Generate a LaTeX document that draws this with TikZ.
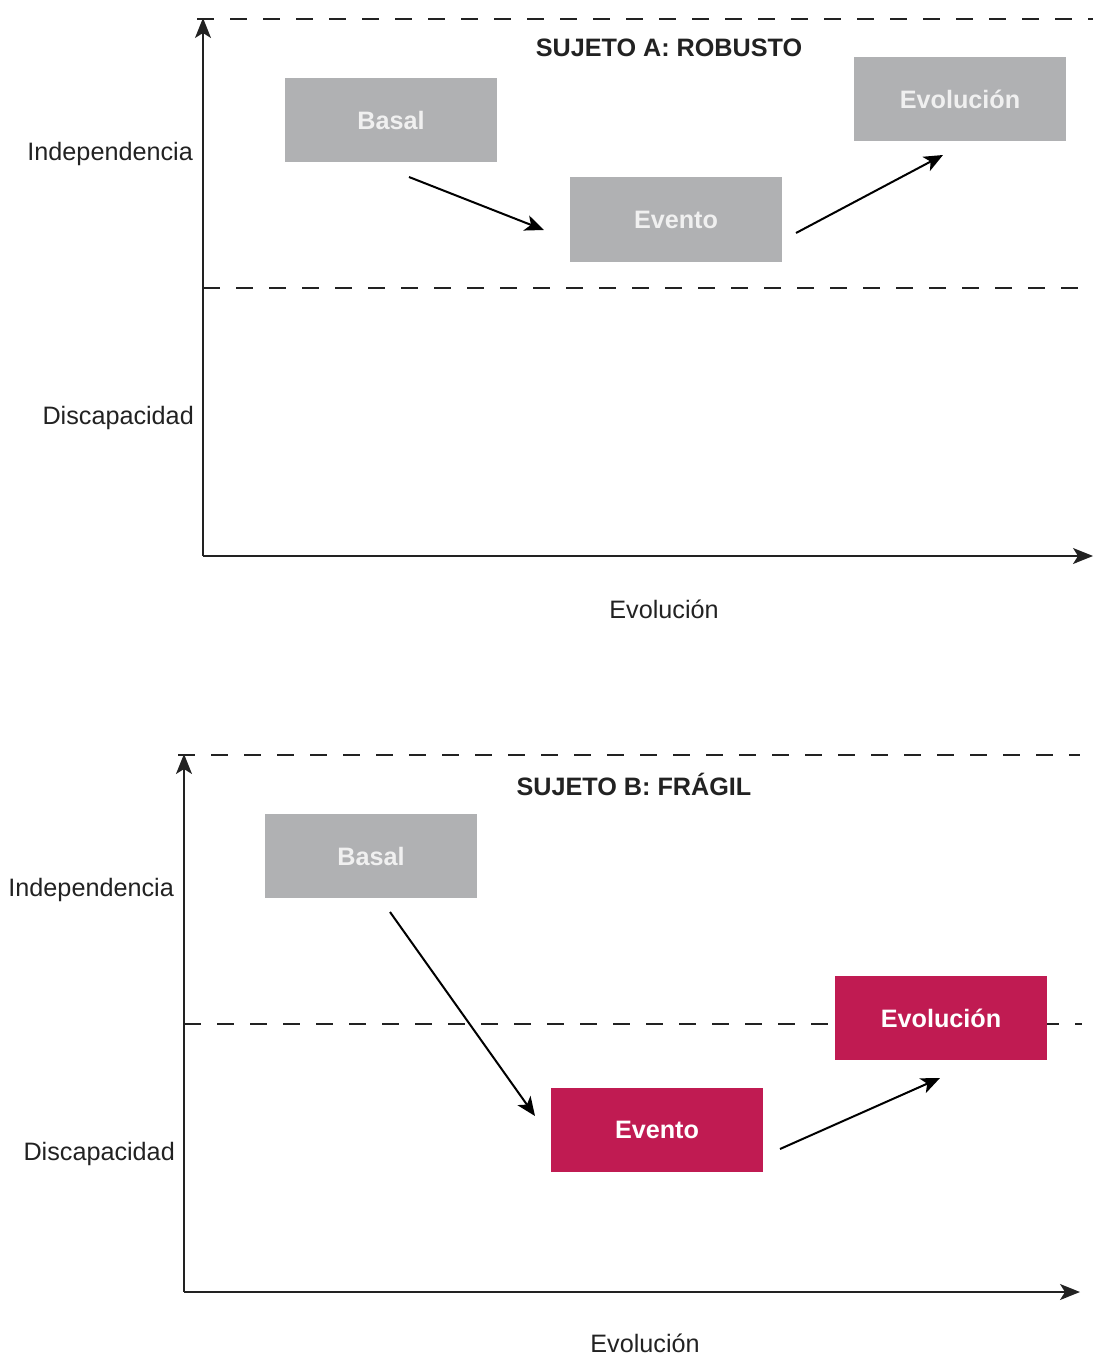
\documentclass[tikz,border=0pt]{standalone}
\usepackage{fontspec}
\setmainfont{Liberation Sans}
\usetikzlibrary{arrows.meta}
\definecolor{boxgrey}{HTML}{B0B1B3}
\definecolor{crimson}{HTML}{C01B52}
\definecolor{ink}{HTML}{222222}
\begin{document}
\begin{tikzpicture}[x=1pt,y=-1pt,
  axis/.style={draw=ink, line width=1.6pt, -{Stealth[length=20pt,width=16pt,inset=5pt]}},
  guide/.style={draw=ink, line width=1.6pt, dash pattern=on 17pt off 16pt},
  conn/.style={draw=black, line width=2pt, -{Stealth[length=19pt,width=16pt,inset=5pt]}},
  stagebox/.style={minimum width=212pt, minimum height=84pt, inner sep=0pt, font=\fontsize{25.2}{30}\selectfont\bfseries},
  greybox/.style={stagebox, fill=boxgrey, text=white!94!black},
  redbox/.style={stagebox, fill=crimson, text=white},
  axislabel/.style={font=\fontsize{25.2}{30}\selectfont, text=ink, inner sep=0pt},
  paneltitle/.style={font=\fontsize{25.2}{30}\selectfont\bfseries, text=ink, inner sep=0pt}]
\useasboundingbox (0,0) rectangle (1093,1356);

% ---------- Panel A ----------
\coordinate (aO) at (203,556);
\coordinate (aY) at (203,18);
\coordinate (aX) at (1093,556);
\coordinate (aT1) at (197,19);
\coordinate (aT2) at (1093,19);
\coordinate (aM1) at (203,288);
\coordinate (aM2) at (1093,288);
\draw[guide] (aT1) -- (aT2);
\draw[guide] (aM1) -- (aM2);
\draw[axis] (aO) -- (aY);
\draw[axis] (aO) -- (aX);
\node[paneltitle] (aTitle) at (669,48) {SUJETO A: ROBUSTO};
\node[axislabel, anchor=east] (aInd) at (193,154) {Independencia};
\node[axislabel, anchor=east] (aDis) at (194,418) {Discapacidad};
\node[axislabel] (aEvo) at (664,609) {Evolución};
\node[greybox] (aBasal) at (391,120) {Basal};
\node[greybox] (aEvento) at (676,219.5) {Evento};
\node[greybox] (aEvol) at (960,99) {Evolución};
\coordinate (a1s) at (409,177);
\coordinate (a1e) at (544,230);
\coordinate (a2s) at (796,233);
\coordinate (a2e) at (943,155);
\draw[conn] (a1s) -- (a1e);
\draw[conn] (a2s) -- (a2e);

% ---------- Panel B ----------
\coordinate (bO) at (184,1292);
\coordinate (bY) at (184,754);
\coordinate (bX) at (1080,1292);
\coordinate (bT1) at (178,755);
\coordinate (bT2) at (1080,755);
\coordinate (bM1) at (184,1024);
\coordinate (bM2) at (1082,1024);
\draw[guide] (bT1) -- (bT2);
\draw[guide] (bM1) -- (bM2);
\draw[axis] (bO) -- (bY);
\draw[axis] (bO) -- (bX);
\node[paneltitle] (bTitle) at (634,784) {SUJETO B: FRÁGIL};
\node[axislabel, anchor=east] (bInd) at (174,890) {Independencia};
\node[axislabel, anchor=east] (bDis) at (175,1154) {Discapacidad};
\node[axislabel] (bEvo) at (645,1343) {Evolución};
\node[greybox] (bBasal) at (371,856) {Basal};
\node[redbox] (bEvento) at (657,1130) {Evento};
\node[redbox] (bEvol) at (941,1018) {Evolución};
\coordinate (b1s) at (390,912);
\coordinate (b1e) at (535,1116);
\coordinate (b2s) at (780,1149);
\coordinate (b2e) at (940,1078);
\draw[conn] (b1s) -- (b1e);
\draw[conn] (b2s) -- (b2e);
\end{tikzpicture}
\end{document}
